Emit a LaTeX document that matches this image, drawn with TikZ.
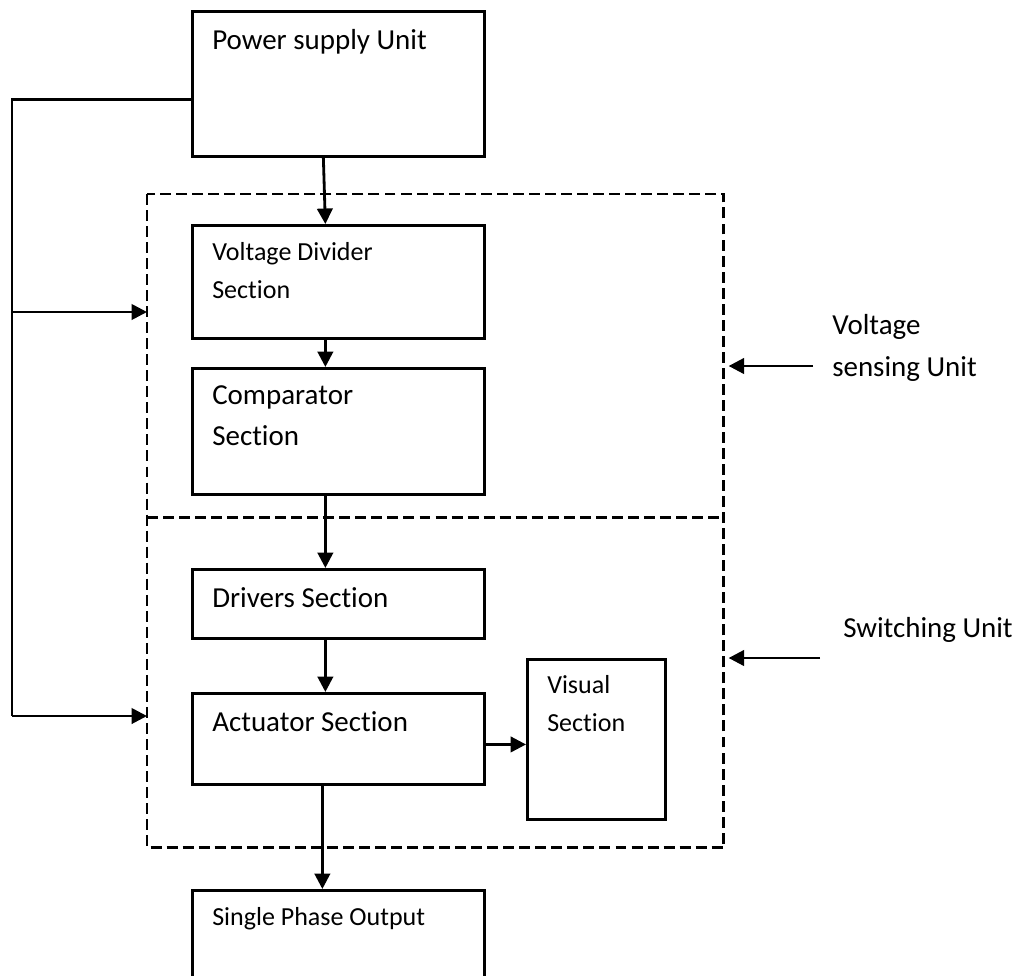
\documentclass[tikz,border=0pt]{standalone}
\usepackage{fontspec}
\setmainfont[Ligatures=NoCommon]{Carlito}
\usetikzlibrary{calc,positioning,arrows.meta}

\begin{document}
\begin{tikzpicture}[x=0.025cm,y=-0.025cm,
        BoxCfg/.style={draw,line width=1.9pt,anchor=north west,inner sep=0,minimum width=7.3cm},
        DashCfg/.style={line width=1.9pt,dash pattern=on 7.8pt off 3.6pt},
        ArrCfg/.style={line width=2pt,-{Triangle[length=11pt,width=11pt]}},
        LineCfg/.style={line width=2pt},
        BigTxt/.style={anchor=base west,inner sep=0,align=left,font=\fontsize{20.6}{28.5}\selectfont},
        SmallTxt/.style={anchor=base west,inner sep=0,align=left,font=\fontsize{18.5}{27}\selectfont}
    ]
    \useasboundingbox (0,0) rectangle (1021,975);
    
    %unit regions
    \node[anchor=north west,inner sep=0,minimum width=14.4cm,minimum height=8.075cm](VSU) at (147,194){};
    \node[anchor=north west,inner sep=0,minimum width=14.4cm,minimum height=8.25cm](SWU) at (147,517){};
    \draw[DashCfg] (VSU.north west) rectangle (SWU.south east);
    \draw[DashCfg] (VSU.south west)--(VSU.south east);
    
    %blocks
    \node[BoxCfg,minimum height=3.625cm](PSU) at (191,10){};
    \node[BoxCfg,minimum height=2.825cm](VD) at (191,224){};
    \node[BoxCfg,minimum height=3.15cm](CMP) at (191,367){};
    \node[BoxCfg,minimum height=1.725cm](DRV) at (191,568){};
    \node[BoxCfg,minimum height=2.275cm](ACT) at (191,692){};
    \node[BoxCfg,minimum width=3.45cm,minimum height=4cm](VIS) at (526,658){};
    \node[BoxCfg,minimum height=3cm](OUT) at (191,889){};
    
    %block texts (base = last line)
    \node[BigTxt](PSUtxt) at ($(PSU.north west)+(21,39)$){Power supply Unit};
    \node[SmallTxt](VDtxt) at ($(VD.north west)+(21,74)$){Voltage Divider\\Section};
    \node[BigTxt](CMPtxt) at ($(CMP.north west)+(21,78)$){Comparator\\Section};
    \node[BigTxt](DRVtxt) at ($(DRV.north west)+(21,39)$){Drivers Section};
    \node[BigTxt](ACTtxt) at ($(ACT.north west)+(21,39)$){Actuator Section};
    \node[SmallTxt](VIStxt) at ($(VIS.north west)+(21,73)$){Visual\\Section};
    \node[SmallTxt](OUTtxt) at ($(OUT.north west)+(21,36)$){Single Phase Output};
    
    %side labels
    \node[BigTxt,font=\fontsize{20.6}{29.2}\selectfont](VSUtxt) at (832,376){Voltage\\sensing Unit};
    \node[BigTxt](SWUtxt) at (843,637){Switching Unit};
    
    %connections
    \draw[ArrCfg] ([xshift=-0.375cm]PSU.south)--([xshift=-0.325cm]VD.north);
    \draw[ArrCfg] ([xshift=-0.325cm]VD.south)--([xshift=-0.325cm]CMP.north);
    \draw[ArrCfg] ([xshift=-0.325cm]CMP.south)--([xshift=-0.325cm]DRV.north);
    \draw[ArrCfg] ([xshift=-0.325cm]DRV.south)--([xshift=-0.325cm]ACT.north);
    \draw[ArrCfg] ([xshift=-0.4cm]ACT.south)--([xshift=-0.4cm]OUT.north);
    \draw[ArrCfg] ([yshift=-0.14cm]ACT.east)--([yshift=-0.14cm]ACT.east -| VIS.west);
    
    %supply feedback
    \coordinate (TapA) at (12,312);
    \coordinate (TapB) at (12,716);
    \draw[LineCfg] ([yshift=-0.39cm]PSU.west)-|(TapB);
    \draw[ArrCfg] (TapA)--(TapA -| VSU.west);
    \draw[ArrCfg] (TapB)--(TapB -| SWU.west);
    
    %side arrows
    \coordinate (VSUarr) at (813,366);
    \coordinate (SWUarr) at (820,658);
    \draw[ArrCfg,shorten >=3.5pt] (VSUarr)--(VSUarr -| VSU.east);
    \draw[ArrCfg,shorten >=3.5pt] (SWUarr)--(SWUarr -| SWU.east);
    
\end{tikzpicture}
\end{document}
